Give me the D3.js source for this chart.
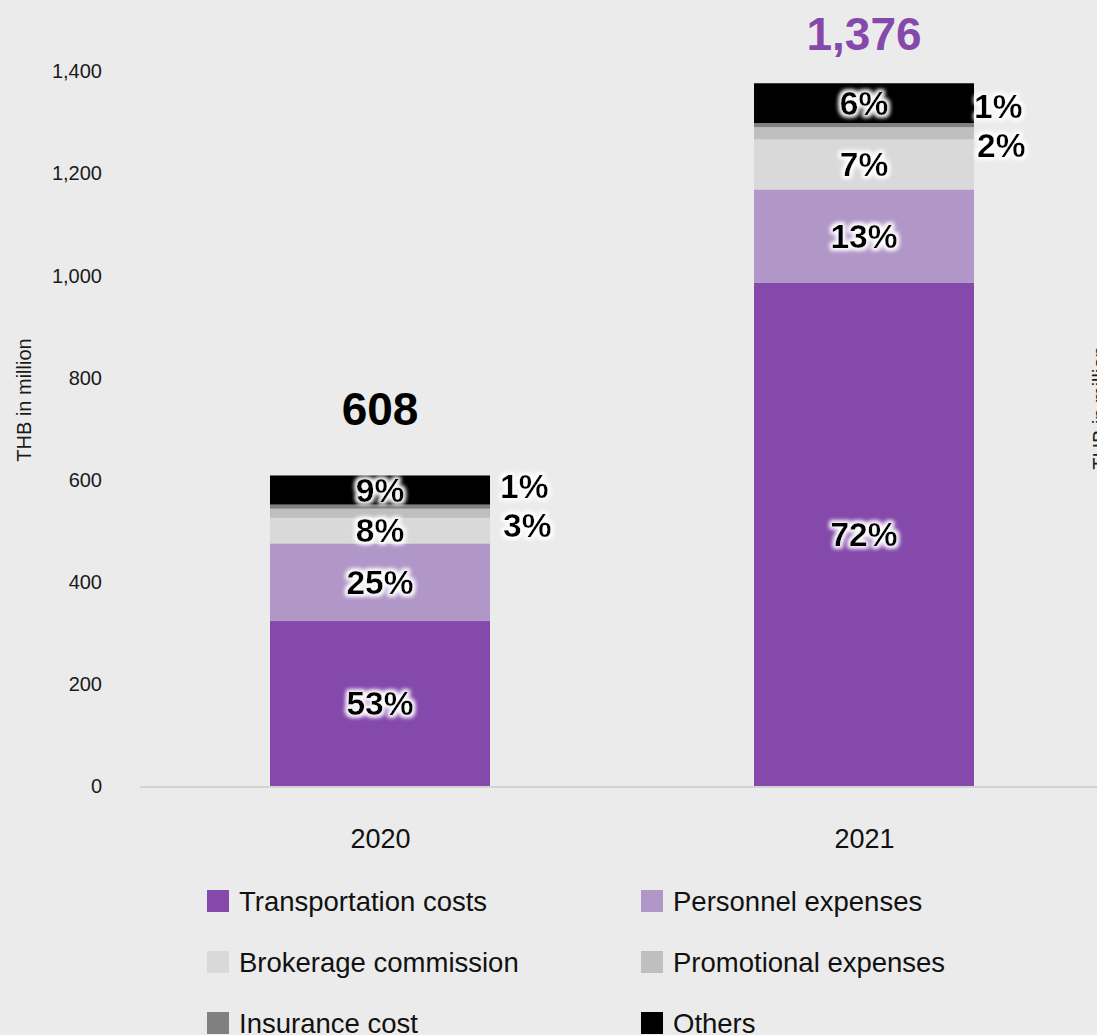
<!DOCTYPE html>
<html>
<head>
<meta charset="utf-8">
<script src="https://cdn.jsdelivr.net/npm/d3@7"></script>
<style>
  html, body { margin: 0; padding: 0; background: #ebebeb; }
  svg { display: block; font-family: "Liberation Sans", Arial, sans-serif; }
</style>
</head>
<body>
<svg id="chart" width="1097" height="1035"></svg>
<script>
// Operating expenses by type, THB in million
const years = ["2020", "2021"];
const categories = ["Transportation costs", "Personnel expenses", "Brokerage commission",
                    "Promotional expenses", "Insurance cost", "Others"];
const transportation = [323, 985];
const personnel = [152, 183];
const brokerage = [50, 98];
const promotional = [18, 24];
const insurance = [8, 8];
const others = [57, 78];
const yTicks = [0, 200, 400, 600, 800, 1000, 1200, 1400];
const colors = ["#8549ab", "#b197c8", "#d9d9d9", "#bfbfbf", "#808080", "#000000"];
const totalColors = ["#000000", "#8549ab"];

const seriesValues = [transportation, personnel, brokerage, promotional, insurance, others];
const rows = years.map((yr, i) => {
  const r = { year: yr };
  categories.forEach((c, k) => { r[c] = seriesValues[k][i]; });
  r.total = d3.sum(seriesValues, s => s[i]);
  return r;
});

const svg = d3.select("#chart");
const W = 1097;

const y = d3.scaleLinear().domain([0, 1400]).range([786, 71]);
const x = d3.scalePoint().domain(years).range([380, 864]);
const barW = 220;
const color = d3.scaleOrdinal().domain(categories).range(colors);

// soft white halo behind the percentage labels
const defs = svg.append("defs");
const f = defs.append("filter").attr("id", "halo")
  .attr("x", "-30%").attr("y", "-30%").attr("width", "160%").attr("height", "160%");
f.append("feMorphology").attr("in", "SourceAlpha").attr("operator", "dilate").attr("radius", 1.5).attr("result", "d");
f.append("feGaussianBlur").attr("in", "d").attr("stdDeviation", 2.2).attr("result", "b");
f.append("feFlood").attr("flood-color", "#ffffff").attr("flood-opacity", 0.85).attr("result", "w");
f.append("feComposite").attr("in", "w").attr("in2", "b").attr("operator", "in").attr("result", "g");
const m = f.append("feMerge");
m.append("feMergeNode").attr("in", "g");
m.append("feMergeNode").attr("in", "g");
m.append("feMergeNode").attr("in", "SourceGraphic");

// y axis labels
const yAxis = d3.axisLeft(y).tickValues(yTicks).tickSize(0).tickPadding(0)
  .tickFormat(d3.format(","));
svg.append("g").attr("transform", "translate(102,0)").call(yAxis)
  .call(g => g.select(".domain").remove())
  .call(g => g.selectAll("text").attr("font-size", 20).attr("fill", "#1a1a1a")
    .attr("font-family", "'Liberation Sans', Arial, sans-serif").attr("dy", "0.34em"));

// y axis title
svg.append("text")
  .attr("transform", "translate(31,400) rotate(-90)")
  .attr("text-anchor", "middle").attr("font-size", 20).attr("fill", "#1a1a1a")
  .text("THB in million");
// neighbouring panel's axis title, clipped by the right edge
svg.append("text")
  .attr("transform", "translate(1107,408) rotate(-90)")
  .attr("text-anchor", "middle").attr("font-size", 20).attr("fill", "#1a1a1a")
  .text("THB in million");

// stacked bars
const stack = d3.stack().keys(categories);
const series = stack(rows);

svg.append("g").selectAll("g").data(series).join("g")
  .attr("fill", d => color(d.key))
  .selectAll("rect").data(d => d).join("rect")
  .attr("x", d => x(d.data.year) - barW / 2)
  .attr("width", barW)
  .attr("y", d => y(d[1]))
  .attr("height", d => y(d[0]) - y(d[1]));

// baseline
svg.append("line").attr("x1", 140).attr("x2", W).attr("y1", 787).attr("y2", 787)
  .attr("stroke", "#d3d3d3").attr("stroke-width", 2);

// category labels
const xAxis = d3.axisBottom(x).tickSize(0).tickPadding(0);
svg.append("g").attr("transform", "translate(0,848)").call(xAxis)
  .call(g => g.select(".domain").remove())
  .call(g => g.selectAll("text").attr("font-size", 27).attr("fill", "#111")
    .attr("font-family", "'Liberation Sans', Arial, sans-serif").attr("dy", 0));

// percentage labels
const pct = (v, t) => Math.round(v / t * 100) + "%";
const labels = svg.append("g").attr("font-weight", "bold").attr("font-size", 33.5)
  .attr("fill", "#000").attr("filter", "url(#halo)");

const insideKeys = ["Transportation costs", "Personnel expenses", "Brokerage commission", "Others"];
series.filter(s => insideKeys.includes(s.key)).forEach(s => {
  labels.selectAll(null).data(s).join("text")
    .attr("x", d => x(d.data.year))
    .attr("y", d => (y(d[0]) + y(d[1])) / 2)
    .attr("dy", "0.35em")
    .attr("text-anchor", "middle")
    .text(d => pct(d[1] - d[0], d.data.total));
});

// small segments are labelled beside the bar
const promoS = series.find(s => s.key === "Promotional expenses");
const insS = series.find(s => s.key === "Insurance cost");
rows.forEach((r, i) => {
  const mid = (y(promoS[i][0]) + y(insS[i][1])) / 2 - 5;
  const lx = Math.min(x(r.year) + barW / 2 + 10, W - 123);
  labels.append("text").attr("x", lx).attr("y", mid - 20).attr("dy", "0.35em")
    .text(pct(insS[i][1] - insS[i][0], r.total));
  labels.append("text").attr("x", lx + 3).attr("y", mid + 19).attr("dy", "0.35em")
    .text(pct(promoS[i][1] - promoS[i][0], r.total));
});

// totals above each bar
svg.append("g").selectAll("text").data(rows).join("text")
  .attr("x", d => x(d.year))
  .attr("y", d => Math.max(y(d.total) - 50, 50))
  .attr("text-anchor", "middle").attr("font-weight", "bold").attr("font-size", 46)
  .attr("fill", (d, i) => totalColors[i])
  .text(d => d3.format(",")(d.total));

// legend, two columns
const legend = svg.append("g").selectAll("g").data(categories).join("g")
  .attr("transform", (d, i) => `translate(${i % 2 === 0 ? 207 : 641},${901 + Math.floor(i / 2) * 61})`);
legend.append("rect").attr("x", 0).attr("y", -11).attr("width", 22).attr("height", 22)
  .attr("fill", d => color(d));
legend.append("text").attr("x", 32).attr("y", 0).attr("dy", "0.35em")
  .attr("font-size", 27.5).attr("fill", "#111").text(d => d);
</script>
</body>
</html>
